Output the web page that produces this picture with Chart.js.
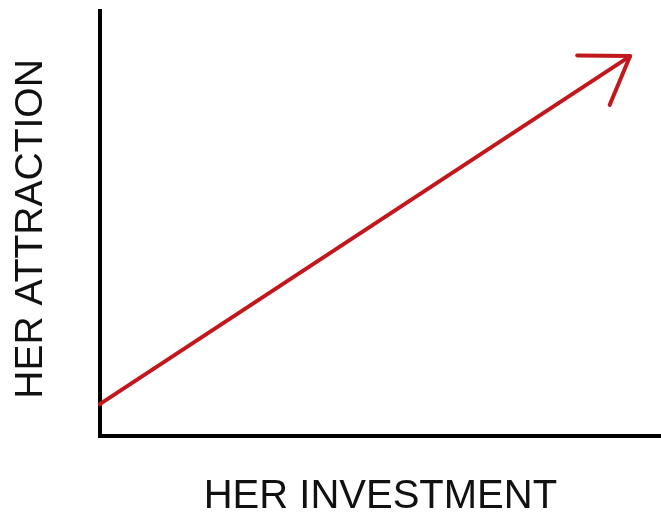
<!DOCTYPE html>
<html>
<head>
<meta charset="utf-8">
<script src="https://cdn.jsdelivr.net/npm/chart.js@4/dist/chart.umd.min.js"></script>
<style>
  html, body { margin: 0; padding: 0; background: #fff; }
  #wrap { width: 661px; height: 513px; }
</style>
</head>
<body>
<div id="wrap"><canvas id="chart"></canvas></div>
<script>
// values (axes run 0..100, no ticks shown)
const investment = [0, 94.5];
const attraction = [7.5, 89.4];
const xTitle = "HER INVESTMENT";
const yTitle = "HER ATTRACTION ";

const lineColor = "#c2181d";

// arrowhead at the end of the last dataset segment
const arrowHead = {
  id: "arrowHead",
  afterDatasetsDraw(chart) {
    const pts = chart.getDatasetMeta(0).data;
    if (pts.length < 2) return;
    const a = pts[pts.length - 2], b = pts[pts.length - 1];
    const ang = Math.atan2(b.y - a.y, b.x - a.x);
    const len = 53, spread = 34 * Math.PI / 180;
    const ctx = chart.ctx;
    ctx.save();
    ctx.strokeStyle = lineColor;
    ctx.lineWidth = 4;
    ctx.lineCap = "round";
    ctx.lineJoin = "round";
    ctx.beginPath();
    ctx.moveTo(b.x - len * Math.cos(ang - spread), b.y - len * Math.sin(ang - spread));
    ctx.lineTo(b.x, b.y);
    ctx.lineTo(b.x - len * Math.cos(ang + spread), b.y - len * Math.sin(ang + spread));
    ctx.stroke();
    ctx.restore();
  }
};

new Chart(document.getElementById("chart"), {
  type: "line",
  data: {
    datasets: [{
      data: investment.map((x, i) => ({ x: x, y: attraction[i] })),
      borderColor: lineColor,
      borderWidth: 4,
      borderCapStyle: "round",
      pointRadius: 0,
      tension: 0,
      clip: false
    }]
  },
  options: {
    responsive: true,
    maintainAspectRatio: false,
    animation: false,
    events: [],
    layout: { padding: { top: 11, right: 0, left: 0, bottom: 0 } },
    plugins: { legend: { display: false }, tooltip: { enabled: false } },
    scales: {
      x: {
        type: "linear", min: 0, max: 100,
        grid: { display: false, drawTicks: false },
        border: { display: true, color: "#000", width: 4 },
        ticks: { display: false },
        title: {
          display: true, text: xTitle, color: "#111",
          font: { family: "Liberation Sans, Arial, sans-serif", size: 40, lineHeight: 0.8 },
          padding: { top: 45, bottom: 0 }
        }
      },
      y: {
        type: "linear", min: 0, max: 100,
        grid: { display: false, drawTicks: false },
        border: { display: true, color: "#000", width: 4 },
        ticks: { display: false },
        title: {
          display: true, text: yTitle, color: "#111",
          font: { family: "Liberation Sans, Arial, sans-serif", size: 39 },
          padding: { top: 8, bottom: 45 }
        }
      }
    }
  },
  plugins: [arrowHead]
});
</script>
</body>
</html>
